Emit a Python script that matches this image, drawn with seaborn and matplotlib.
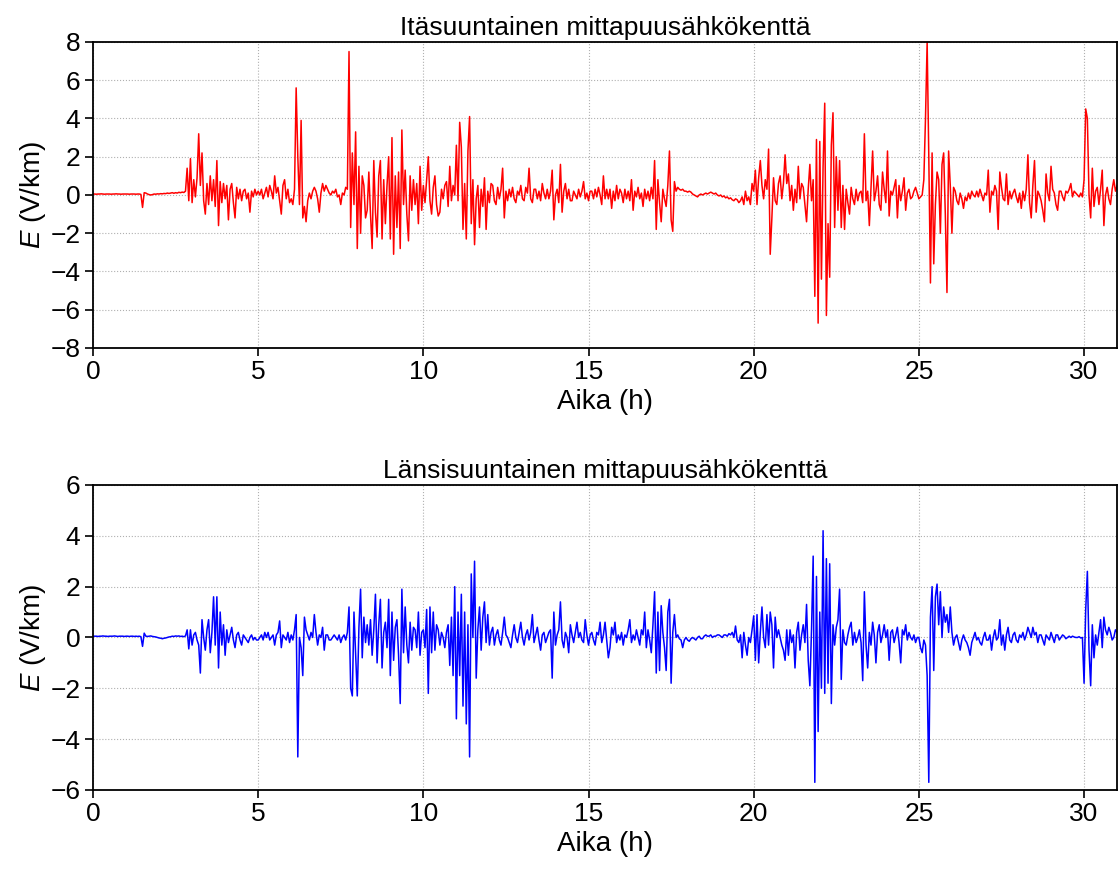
import numpy as np
import pandas as pd
import matplotlib
matplotlib.use("Agg")
import matplotlib.pyplot as plt
import seaborn as sns

# Sampling step of the recorded series (hours)
step_h = 0.05

# East-directed field (V/km), one row per hour, 0.05 h sampling
east_e = [
    0.05, 0.05, 0.04, 0.05, 0.05, 0.06, 0.05, 0.04, 0.05, 0.05, 0.05, 0.04, 0.05, 0.05, 0.06, 0.05, 0.05, 0.04, 0.05, 0.05,
    0.05, 0.05, 0.04, 0.05, 0.05, 0.05, 0.04, 0.05, 0.05, 0.03, -0.65, 0.12, 0.1, 0.05, 0.02, 0.0, 0.02, 0.05, 0.04, 0.06,
    0.05, 0.07, 0.06, 0.08, 0.07, 0.1, 0.08, 0.1, 0.12, 0.09, 0.12, 0.1, 0.14, 0.12, 0.15, 0.13, 0.2, 1.4, -0.3, 1.9,
    -0.4, 0.8, -0.1, 0.9, 3.2, 0.5, 2.2, -0.3, -1.0, 0.6, -0.5, 1.0, -0.3, 0.8, -0.6, 1.8, -1.6, 0.7, -0.4, 0.6,
    -0.2, 0.5, -1.3, 0.3, 0.6, -0.4, -1.2, 0.4, -0.2, 0.3, -0.3, 0.2, 0.3, -0.2, 0.1, -0.9, 0.2, -0.1, 0.3, 0.0,
    0.2, 0.0, 0.3, -0.2, 0.1, 0.4, -0.1, 0.5, 0.2, -0.2, 1.0, 0.1, 0.4, -0.3, -1.0, 0.5, 0.8, -0.2, 0.3, -0.4,
    -0.2, -0.5, 0.3, 5.6, 2.0, -0.5, 3.9, -1.2, -0.6, -1.4, -0.3, 0.1, -0.2, 0.2, 0.4, 0.2, -0.2, -0.9, 0.1, 0.6,
    0.2, 0.5, 0.3, 0.1, 0.0, 0.2, 0.1, 0.3, -0.1, 0.0, -0.5, 0.1, 0.0, 0.4, 0.3, 7.5, -1.7, 2.2, -0.5, 3.3,
    -2.8, 1.5, -2.0, 1.0, 0.5, -1.2, -0.8, 1.2, -1.0, -2.8, 1.8, -0.9, -2.2, 1.0, 1.8, -2.3, 0.8, -1.5, 0.5, 2.0,
    -2.3, 3.0, -3.1, 1.0, -1.7, 1.2, -2.8, 3.4, -0.5, 1.3, -1.0, -2.4, 1.0, -0.8, 0.8, -0.5, 0.6, -1.5, 1.5, -0.8,
    0.5, -0.4, 0.8, 2.0, -0.3, -1.0, 0.4, 1.0, -0.5, -1.1, -0.9, 0.3, -0.2, 0.5, 0.7, -0.6, 1.5, -0.3, 0.5, 0.0,
    2.6, -0.3, 3.8, 2.5, -1.8, 0.6, -2.3, 2.3, 4.1, -1.5, 0.8, -2.6, -0.2, 0.5, -1.7, 0.3, -0.6, 0.9, -1.8, 0.2,
    -0.4, 0.6, 0.5, -0.3, -0.5, 0.4, -0.2, 0.3, 1.4, -1.2, 0.2, -0.3, 0.3, -0.1, 0.4, -0.2, -0.4, 0.2, 0.0, 0.5,
    -0.2, -0.3, 0.4, 0.1, 1.4, -0.2, -0.4, 0.3, 0.3, -0.2, 0.2, -0.3, 0.6, 0.1, -0.2, 0.3, -0.2, 0.2, 1.3, -1.3,
    0.0, 0.3, -0.4, 1.6, -0.9, 0.2, 0.6, -0.2, 0.3, -0.3, -0.3, 0.2, 0.0, -0.2, 0.3, -0.1, 0.2, 0.7, -0.2, 0.1,
    -0.3, 0.2, 0.2, -0.2, 0.3, -0.1, 0.4, 0.0, -0.5, 1.0, -0.2, 0.3, -0.2, 0.3, -0.7, 0.2, -0.3, 0.5, -0.2, 0.3,
    0.1, -0.4, 0.3, -0.2, 0.2, -0.3, 0.8, -0.8, 0.2, -0.1, 0.4, -0.2, 0.1, -0.6, 0.3, -0.2, 0.2, -0.3, 0.4, -0.2,
    1.8, -1.8, 0.8, -0.4, -1.4, 0.3, -0.2, -0.6, 0.5, 2.3, -1.3, -1.9, 0.7, 0.2, 0.4, 0.3, 0.25, 0.3, 0.2, 0.2,
    0.15, 0.2, 0.15, 0.05, 0.0, -0.05, -0.1, 0.0, 0.05, 0.0, 0.05, 0.1, 0.05, 0.1, 0.15, 0.1, 0.05, 0.1, 0.0, -0.05,
    0.0, -0.1, -0.05, -0.15, -0.1, -0.2, -0.15, -0.25, -0.3, -0.2, -0.25, -0.4, -0.3, -0.1, -0.5, 0.2, -0.3, -0.1, -0.5, 0.6,
    0.2, 1.3, -0.5, 0.9, 1.8, 0.5, -0.2, 0.8, 0.3, 2.4, -3.1, -1.2, 0.9, -0.3, -0.5, 0.6, 1.0, -0.2, 0.6, 2.1,
    0.6, 1.1, -0.3, 0.5, -0.8, 0.3, -0.4, 1.5, -0.2, 0.6, 0.4, -0.5, -1.4, 0.3, 1.6, -0.3, 0.8, -5.3, 2.9, -6.7,
    2.8, -4.4, 1.5, 4.8, -6.3, -1.5, -4.3, 2.6, 4.3, -1.7, 2.0, -0.8, 1.8, -1.7, 0.5, -1.8, 0.3, -0.4, -1.0, 0.4,
    -0.2, -0.5, 0.3, -0.3, 0.1, 0.2, -0.4, 3.2, -0.3, 0.2, -1.6, 0.4, 2.3, -0.3, 0.2, 1.0, -0.5, -0.8, 1.2, 0.3,
    -0.4, 2.3, -1.1, 0.2, 0.0, 0.4, 0.8, -1.2, 0.5, -0.3, 0.2, 0.9, -0.8, 0.1, 0.3, -0.2, -0.1, 0.2, 0.4, 0.1,
    -0.2, -0.1, 0.0, 0.8, 4.0, 8.0, 2.0, -4.6, 2.2, -3.6, -0.5, 1.2, 0.8, -2.0, 1.6, 2.2, -1.0, -5.1, 2.3, 0.5,
    -2.0, 0.4, 0.2, -0.3, -0.5, 0.1, -0.2, -0.7, -0.1, -0.3, 0.1, -0.2, 0.2, 0.0, -0.1, 0.2, -0.1, 0.3, 0.0, -0.3,
    0.1, 0.0, 1.3, -0.9, 0.2, 0.0, 0.5, 0.2, -1.8, 1.2, 0.4, -0.2, -0.3, 1.1, -0.5, 0.2, -0.2, 0.1, 0.3, -0.1,
    -0.4, 0.1, -0.7, 0.2, -0.3, 0.3, 2.1, -0.4, -1.2, 0.5, 1.8, -0.9, 0.2, 0.0, -0.3, -0.8, -1.4, 1.1, 0.1, -0.3,
    1.5, 0.3, 0.1, -0.5, -0.8, 0.2, 0.2, -0.1, -0.3, 0.2, 0.1, 0.3, 0.6, -0.1, 0.2, 0.1, 0.0, -0.1, 0.1, -0.1,
    0.8, 4.5, 4.0, 0.0, -1.2, 1.4, -0.6, 0.2, 0.4, -0.5, 0.3, 1.3, -1.6, 0.0, 0.4, -0.2, -0.5, 0.3, 0.8, 0.2,
    0.5,
]

# West-directed field (V/km), same sampling
west_e = [
    0.05, 0.05, 0.05, 0.04, 0.05, 0.05, 0.06, 0.05, 0.05, 0.04, 0.05, 0.05, 0.05, 0.06, 0.05, 0.04, 0.05, 0.05, 0.05, 0.04,
    0.05, 0.05, 0.04, 0.05, 0.05, 0.04, 0.05, 0.04, 0.05, 0.03, -0.35, 0.17, 0.05, 0.04, 0.05, 0.06, 0.04, 0.03, 0.02, 0.0,
    -0.02, -0.03, -0.05, -0.03, -0.02, 0.0, 0.02, 0.03, 0.05, 0.04, 0.06, 0.05, 0.06, 0.04, 0.05, 0.03, 0.06, 0.3, -0.45, 0.3,
    -0.3, 0.1, 0.2, -0.1, -0.3, -1.4, 0.7, 0.0, -0.5, 0.3, 0.7, -0.6, 0.2, 1.6, -0.3, 1.6, -1.2, 1.0, -0.3, 0.5,
    -0.7, 0.3, -0.2, 0.1, 0.4, -0.1, -0.4, 0.1, 0.2, -0.1, -0.3, 0.1, 0.0, -0.1, -0.2, 0.0, 0.1, -0.1, 0.0, -0.1,
    -0.1, 0.0, 0.1, -0.1, 0.2, 0.0, 0.2, -0.1, 0.0, 0.1, -0.3, 0.1, 0.2, 0.65, -0.4, 0.1, 0.0, -0.1, 0.2, -0.2,
    0.1, -0.1, 0.3, 0.9, -4.7, 0.0, -0.4, -1.5, 0.8, 0.3, 0.1, -0.1, 0.2, 0.0, 0.9, 0.2, -0.3, 0.1, 0.0, 0.4,
    -0.5, 0.1, 0.1, -0.1, -0.1, 0.0, 0.1, 0.0, -0.1, 0.1, -0.2, 0.0, 0.1, -0.1, 0.2, 1.2, -2.0, -2.3, 1.0, -0.6,
    -2.3, 0.4, 1.9, -0.8, 0.8, -0.2, 0.5, -0.3, 0.7, -0.7, 0.3, 1.7, -1.0, 0.5, 1.5, -1.2, 0.2, 0.6, -0.4, 1.5,
    -1.5, 1.0, -0.9, 0.4, 0.7, -0.7, -2.6, 1.9, -0.6, 1.2, -0.3, -1.0, 0.6, -0.5, 0.4, 0.3, -0.4, 1.0, -0.7, 0.2,
    0.3, -0.4, 1.1, -2.2, 1.2, -0.6, 1.0, -0.5, 0.5, 0.3, -0.3, 0.2, 0.0, -0.4, 0.2, 0.5, -1.1, 0.8, -1.5, 2.0,
    -3.2, 1.0, -1.5, 1.7, -2.7, 1.0, -3.4, 0.5, -4.7, 2.5, 0.0, 3.0, -1.6, 0.3, 1.2, -0.5, 0.8, 1.4, -0.2, 0.9,
    -0.3, 0.2, 0.4, -0.3, 0.1, 0.3, -0.1, -0.3, 0.2, 0.8, 0.1, 0.0, -0.2, -0.4, 0.1, 0.5, 0.0, -0.2, 0.2, 0.6,
    0.0, -0.3, 0.1, 0.3, -0.1, 0.2, 0.9, -0.2, 0.1, 0.4, -0.1, -0.5, 0.1, 0.2, -0.2, 0.0, 0.2, 0.3, -1.6, 1.0,
    -0.3, 0.1, 0.3, 1.4, -0.1, -0.4, 0.2, 0.0, -0.6, 0.5, 0.1, -0.2, 0.2, 0.6, 0.0, 0.2, -0.1, -0.2, 0.7, 0.1,
    -0.3, 0.1, 0.2, -0.1, -0.3, 0.2, 0.1, 0.6, -0.2, 0.1, 0.6, -0.1, -0.8, -0.4, 0.4, 0.1, 0.6, -0.2, 0.1, -0.1,
    0.2, -0.3, 0.1, 0.0, 0.3, 0.7, -0.2, 0.1, -0.1, 0.3, 0.0, -0.3, 0.3, 0.1, 1.0, -0.4, 0.3, -0.1, -0.6, 0.5,
    1.8, -1.4, 1.0, -1.3, 1.25, 0.2, -0.4, -1.3, 1.0, 1.5, -1.8, 0.2, 0.9, 0.0, 0.1, -0.05, -0.1, -0.4, -0.1, 0.0,
    -0.1, -0.15, -0.05, 0.0, -0.05, -0.1, 0.0, 0.05, -0.05, -0.05, 0.05, 0.1, 0.05, 0.05, 0.1, 0.0, 0.05, 0.05, 0.1, 0.1,
    0.05, 0.0, 0.1, 0.1, 0.05, 0.15, 0.1, 0.2, 0.0, 0.45, -0.1, -0.2, 0.1, -0.8, 0.2, -0.3, -0.7, 0.0, -0.2, 0.3,
    0.85, -0.9, 0.9, -1.0, 0.2, 1.2, 0.0, -0.4, 0.9, -0.3, 1.0, 0.5, -1.2, 0.8, 0.0, 0.3, 0.0, -0.3, -0.5, -0.9,
    0.3, -0.7, 0.3, -0.2, 0.1, -1.2, 0.2, 0.6, -0.5, 0.1, 0.5, -0.2, 1.3, -0.9, -1.9, 0.3, 3.2, -5.7, 2.4, -3.7,
    1.0, -2.0, 4.2, -2.2, 3.1, -1.8, 2.9, -2.6, 0.5, -0.3, 0.4, 0.7, 1.9, -1.65, 0.3, -0.2, -0.3, 0.1, 0.4, 0.6,
    -0.3, 0.2, -0.2, 0.0, 0.3, -0.2, -1.7, 1.8, -0.3, -1.2, 0.2, -0.3, 0.6, 0.1, -1.0, 0.2, 0.5, -0.2, 0.1, 0.5,
    0.0, 0.3, -0.9, 0.2, 0.3, -0.2, 0.1, 0.4, -0.2, -1.0, 0.3, 0.1, 0.5, -0.1, 0.2, 0.0, -0.1, 0.1, -0.2, 0.0,
    0.0, -0.4, -0.6, -0.1, -0.3, -1.5, -5.7, 0.8, 2.0, -1.3, 1.6, 2.1, 0.5, 1.8, 0.0, 1.2, 0.6, 0.9, 0.2, 1.2,
    0.2, -0.3, 0.0, 0.1, -0.2, -0.5, -0.1, 0.1, -0.1, -0.2, -0.4, -0.7, -0.2, 0.0, 0.2, -0.1, 0.0, -0.2, -0.3, 0.0,
    0.2, -0.1, -0.1, 0.1, -0.5, 0.0, 0.3, -0.1, 0.0, 0.7, -0.3, 0.1, -0.5, 0.1, 0.4, -0.1, -0.2, 0.1, 0.2, -0.1,
    -0.2, 0.1, 0.0, 0.2, -0.1, 0.1, 0.4, 0.2, 0.0, 0.4, 0.1, 0.2, -0.2, 0.1, 0.1, -0.1, -0.3, 0.1, 0.0, -0.1,
    0.2, 0.0, -0.2, 0.1, 0.1, -0.1, 0.0, 0.1, 0.05, -0.05, 0.0, 0.05, 0.0, 0.05, 0.02, 0.0, 0.0, 0.03, -0.02, 0.0,
    -1.8, 1.1, 2.6, -0.5, -1.9, 0.5, -0.8, 0.1, -0.3, 0.2, 0.7, -0.4, 0.8, 0.3, 0.1, 0.4, 0.2, -0.1, 0.0, 0.3,
    0.2,
]

titles = ["Itäsuuntainen mittapuusähkökenttä", "Länsisuuntainen mittapuusähkökenttä"]
colors = ["#ff0000", "#0000ff"]
y_limits = [(-8, 8), (-6, 6)]
x_label = "Aika (h)"
y_label = "$E$ (V/km)"

sns.set_style("ticks")
plt.rcParams["font.family"] = ["Liberation Sans", "DejaVu Sans"]
plt.rcParams["mathtext.fontset"] = "custom"
plt.rcParams["mathtext.it"] = "Liberation Sans:italic"
plt.rcParams["mathtext.rm"] = "Liberation Sans"
plt.rcParams["text.color"] = "black"
plt.rcParams["axes.labelcolor"] = "black"
plt.rcParams["xtick.color"] = "black"
plt.rcParams["ytick.color"] = "black"

fig = plt.figure(figsize=(11.19, 8.73), dpi=100)
ax1 = fig.add_axes([0.0831, 0.6014, 0.9152, 0.3505])
ax2 = fig.add_axes([0.0831, 0.0951, 0.9152, 0.3494])

for ax, vals, title, col, ylim in zip([ax1, ax2], [east_e, west_e], titles, colors, y_limits):
    t = np.round(np.arange(len(vals)) * step_h, 2)
    df = pd.DataFrame({"t": t, "E": vals})
    sns.lineplot(data=df, x="t", y="E", ax=ax, color=col, linewidth=1.1, estimator=None)
    ax.set_xlim(0, 31)
    ax.set_ylim(*ylim)
    ax.set_xticks([0, 5, 10, 15, 20, 25, 30])
    ax.set_yticks(np.arange(ylim[0], ylim[1] + 1, 2))
    ax.grid(True, linestyle=":", color="#b0b0b0", linewidth=0.8)
    ax.set_axisbelow(True)
    ax.set_title(title, fontsize=19, pad=5, color="black")
    ax.set_xlabel(x_label, fontsize=20, color="black", labelpad=3)
    ax.set_ylabel(y_label, fontsize=20, labelpad=2, color="black")
    ax.tick_params(axis="both", labelsize=19, direction="out", length=6, width=1.2,
                   color="black", labelcolor="black", pad=3)
    for s in ax.spines.values():
        s.set_linewidth(1.3)
        s.set_color("black")

fig.savefig("out.png", dpi=100)
